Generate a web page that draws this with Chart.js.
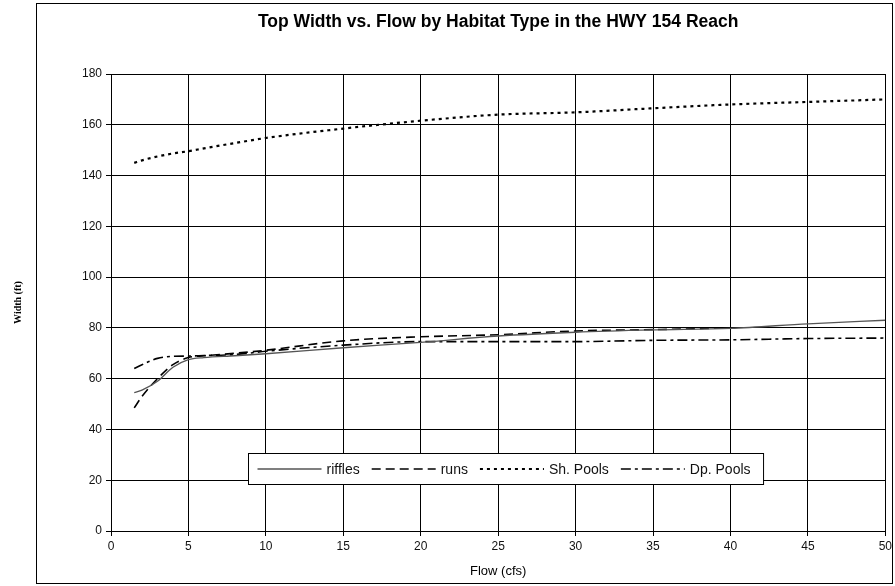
<!DOCTYPE html>
<html>
<head>
<meta charset="utf-8">
<script src="https://cdn.jsdelivr.net/npm/chart.js@4.4.0/dist/chart.umd.min.js"></script>
<style>
  html, body { margin: 0; padding: 0; background: #fff; }
  #wrap { width: 895px; height: 586px; }
</style>
</head>
<body>
<div id="wrap"><canvas id="widthChart" width="895" height="586"></canvas></div>
<script>
// ---- data ----
const flows = [1.5, 2, 3, 4, 5, 6, 8, 10, 15, 20, 25, 30, 35, 40, 45, 50]
const riffles = [54.5, 55.5, 59, 64.5, 67.5, 68.3, 69, 69.8, 72.2, 74.3, 76.8, 78.3, 79.2, 79.8, 81.6, 83]
const runs = [48.5, 53, 60, 65.5, 68.3, 69, 70, 71.2, 74.9, 76.5, 77.3, 78.8, 79.3, 80, null, null]
const shPools = [145, 146, 147.5, 148.7, 149.6, 150.7, 152.8, 154.8, 158.5, 161.6, 164, 164.9, 166.5, 168, 169, 170]
const dpPools = [64, 65.5, 68, 68.8, 68.9, 69.1, 69.5, 70.8, 73.2, 74.6, 74.6, 74.6, 75.1, 75.3, 75.8, 76]
const seriesNames = ['riffles', 'runs', 'Sh. Pools', 'Dp. Pools']
const xTicks = [0, 5, 10, 15, 20, 25, 30, 35, 40, 45, 50]
const yTicks = [0, 20, 40, 60, 80, 100, 120, 140, 160, 180]
const chartTitle = 'Top Width vs. Flow by Habitat Type in the HWY 154 Reach'

const FONT = '"Liberation Sans", Arial, sans-serif'

// pairs flows with a series, skipping missing values
const toPoints = (vals) => flows.map((f, i) => ({ x: f, y: vals[i] })).filter(p => p.y !== null)

const datasets = [{
    label: seriesNames[0],
    data: toPoints(riffles),
    borderColor: '#555',
    borderWidth: 1.4,
    borderDash: []
}, {
    label: seriesNames[1],
    data: toPoints(runs),
    borderColor: '#000',
    borderWidth: 1.6,
    borderDash: [9, 5]
}, {
    label: seriesNames[2],
    data: toPoints(shPools),
    borderColor: '#000',
    borderWidth: 2.2,
    borderDash: [3, 4]
}, {
    label: seriesNames[3],
    data: toPoints(dpPools),
    borderColor: '#000',
    borderWidth: 1.6,
    borderDash: [10, 4, 3, 4]
}]
datasets.forEach(d => {
    d.pointRadius = 0
    d.fill = false
    d.tension = 0.3
    d.cubicInterpolationMode = 'monotone'
})

//    ------- outer frame, background, title over the plot ----------
const framePlugin = {
    id: 'frame',
    beforeDraw(chart) {
        const c = chart.ctx
        const area = chart.chartArea
        c.save()
        c.fillStyle = '#fff'
        c.fillRect(0, 0, chart.width, chart.height)
        c.strokeStyle = '#000'
        c.lineWidth = 1
        c.strokeRect(36.5, 3.5, 856, 580)
        c.fillStyle = '#000'
        c.font = 'bold 17.5px ' + FONT
        c.textAlign = 'center'
        c.textBaseline = 'middle'
        c.fillText(chartTitle, (area.left + area.right) / 2, 22)
        c.restore()
    }
}

//    ------- legend drawn inside the plot, like the Excel one ----------
const boxLegend = {
    id: 'boxLegend',
    afterDraw(chart) {
        const c = chart.ctx
        const area = chart.chartArea
        const sample = 64
        c.save()
        c.font = '14px ' + FONT
        let w = 10
        chart.data.datasets.forEach(d => { w += sample + 5 + c.measureText(d.label).width + 12 })
        const left = Math.round((area.left + area.right) / 2 - w / 2 + 7) + 0.5
        const top = area.top + 379.5
        const h = 31
        c.fillStyle = '#fff'
        c.fillRect(left, top, w, h)
        c.strokeStyle = '#000'
        c.lineWidth = 1
        c.strokeRect(left, top, w, h)
        let x = left + 9
        const y = top + h / 2
        chart.data.datasets.forEach(d => {
            c.beginPath()
            c.setLineDash(d.borderDash)
            c.strokeStyle = d.borderColor
            c.lineWidth = d.borderWidth
            c.moveTo(x, y)
            c.lineTo(x + sample, y)
            c.stroke()
            c.setLineDash([])
            x += sample + 5
            c.fillStyle = '#111'
            c.textBaseline = 'middle'
            c.fillText(d.label, x, y + 1)
            x += c.measureText(d.label).width + 12
        })
        c.restore()
    }
}

const ctx = document.getElementById('widthChart').getContext('2d')
const chart = new Chart(ctx, {
    type: 'line',
    data: { datasets },
    plugins: [framePlugin, boxLegend],
    options: {
        responsive: false,
        animation: false,
        layout: { padding: { left: 0, right: 2, top: 74, bottom: 0 } },
        plugins: {
            legend: { display: false },
            tooltip: { enabled: false },
            title: { display: false }
        },
        scales: {
            x: {
                type: 'linear',
                min: 0,
                max: 50,
                afterBuildTicks: (s) => { s.ticks = xTicks.map(v => ({ value: v })) },
                afterFit: (s) => { s.height = 55 },
                grid: { color: '#000', lineWidth: 1, tickLength: 5 },
                border: { color: '#000', width: 1 },
                ticks: { color: '#111', font: { family: FONT, size: 12 }, padding: 3, maxRotation: 0 },
                title: {
                    display: true,
                    text: 'Flow (cfs)',
                    color: '#000',
                    font: { family: FONT, size: 13 },
                    padding: { top: 4, bottom: 7 }
                }
            },
            y: {
                min: 0,
                max: 180,
                afterBuildTicks: (s) => { s.ticks = yTicks.map(v => ({ value: v })) },
                afterFit: (s) => { s.width = 111 },
                grid: { color: '#000', lineWidth: 1, tickLength: 5 },
                border: { color: '#000', width: 1 },
                ticks: { color: '#111', font: { family: FONT, size: 12 }, padding: 4 },
                title: {
                    display: true,
                    text: 'Width (ft)',
                    color: '#000',
                    font: { family: '"Liberation Serif", "Times New Roman", serif', size: 10, weight: 'bold' },
                    padding: { top: 12, bottom: 4 }
                }
            }
        }
    }
})
</script>
</body>
</html>
